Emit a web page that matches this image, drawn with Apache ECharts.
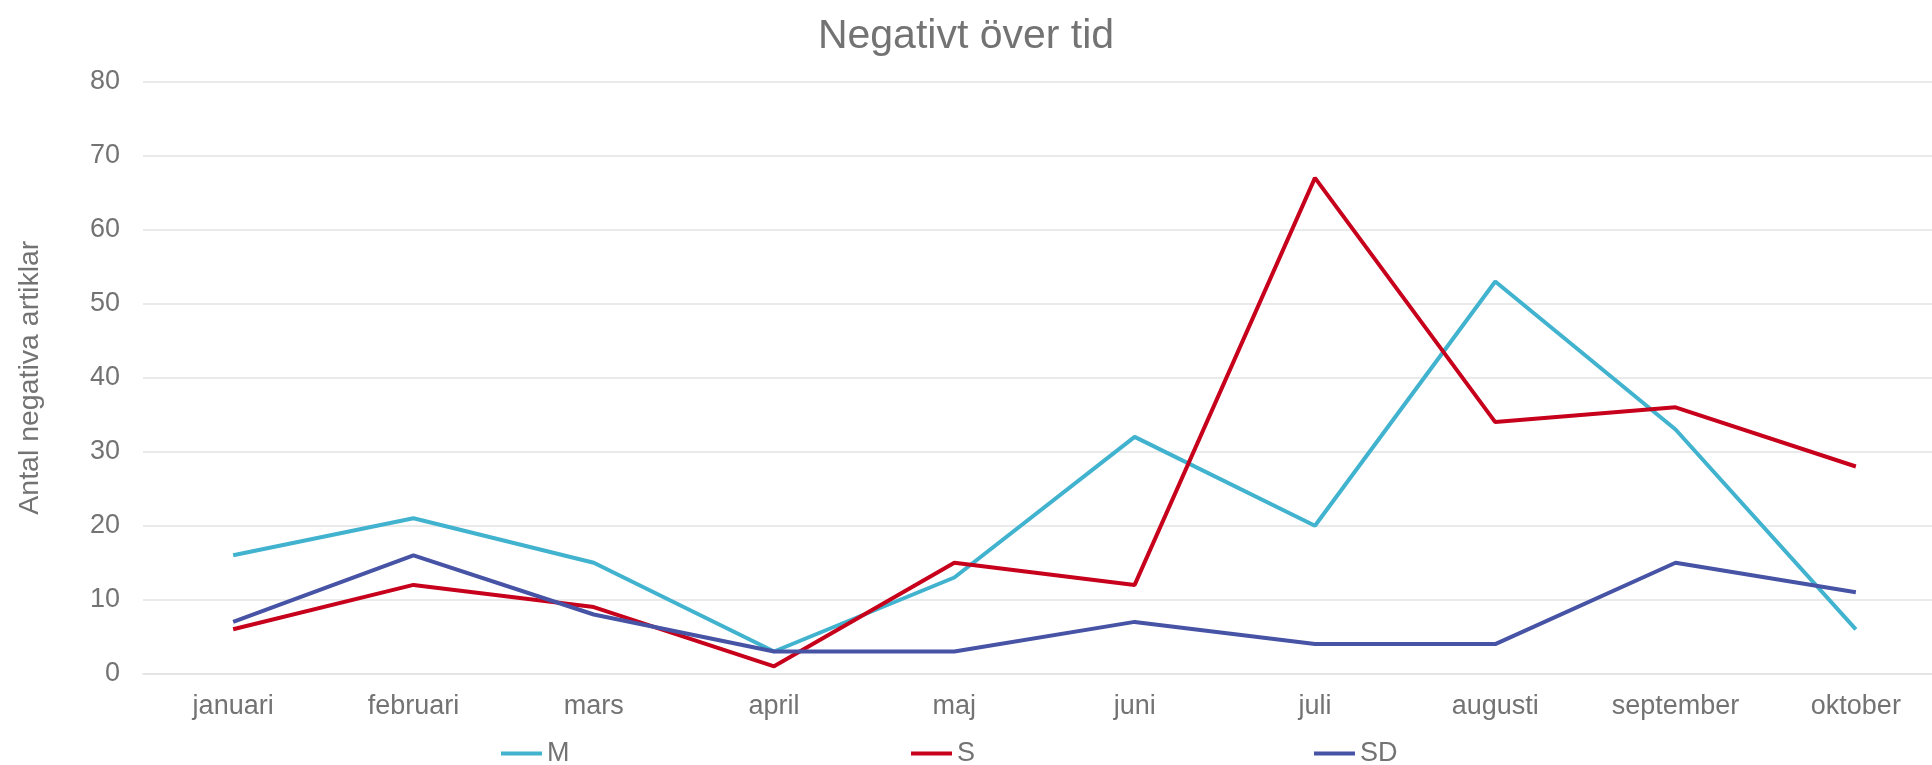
<!DOCTYPE html>
<html>
<head>
<meta charset="utf-8">
<script src="https://cdn.jsdelivr.net/npm/echarts@6/dist/echarts.min.js"></script>
<style>
html,body{margin:0;padding:0;background:#fff;}
#c{width:1932px;height:765px;}
</style>
</head>
<body>
<div id="c"></div>
<script>
var categories = ['januari','februari','mars','april','maj','juni','juli','augusti','september','oktober'];
var seriesM = [16, 21, 15, 3, 13, 32, 20, 53, 33, 6];
var seriesS = [6, 12, 9, 1, 15, 12, 67, 34, 36, 28];
var seriesSD = [7, 16, 8, 3, 3, 7, 4, 4, 15, 11];
var yTicks = [0, 10, 20, 30, 40, 50, 60, 70, 80];

var FONT = '"Liberation Sans", Arial, sans-serif';
var TXT = '#737373';
var colors = {M: '#41B3CF', S: '#C7001C', SD: '#4753A5'};

function legendFor(name, left) {
  return {
    data: [name], left: left, top: 740, icon: 'rect', itemWidth: 41, itemHeight: 4,
    padding: 0, itemGap: 0, textStyle: {fontFamily: FONT, fontSize: 27, color: TXT}
  };
}

var chart = echarts.init(document.getElementById('c'), null, {renderer: 'canvas'});
chart.setOption({
  animation: false,
  backgroundColor: '#ffffff',
  title: {
    text: 'Negativt över tid', left: 'center', top: 11,
    textStyle: {fontFamily: FONT, fontSize: 41, fontWeight: 'normal', color: TXT}
  },
  legend: [legendFor('M', 501), legendFor('S', 911), legendFor('SD', 1314)],
  grid: {left: 143, top: 81.7, width: 1803, height: 592, containLabel: false, outerBoundsMode: 'none'},
  xAxis: {
    type: 'category', data: categories, boundaryGap: true,
    axisLine: {show: true, lineStyle: {color: '#e3e3e3', width: 1.5}},
    axisTick: {show: false},
    axisLabel: {fontFamily: FONT, fontSize: 27, color: TXT, margin: 19, interval: 0}
  },
  yAxis: {
    type: 'value', min: yTicks[0], max: yTicks[yTicks.length-1], interval: 10,
    name: 'Antal negativa artiklar', nameLocation: 'middle', nameGap: 98,
    nameTextStyle: {fontFamily: FONT, fontSize: 28.5, color: TXT},
    axisLine: {show: false}, axisTick: {show: false},
    axisLabel: {fontFamily: FONT, fontSize: 27, color: TXT, margin: 23},
    splitLine: {lineStyle: {color: '#e3e3e3', width: 1.5}}
  },
  series: [
    {name: 'M', type: 'line', data: seriesM, symbol: 'none', lineStyle: {width: 4, color: colors.M}, itemStyle: {color: colors.M}},
    {name: 'S', type: 'line', data: seriesS, symbol: 'none', lineStyle: {width: 4, color: colors.S}, itemStyle: {color: colors.S}},
    {name: 'SD', type: 'line', data: seriesSD, symbol: 'none', lineStyle: {width: 4, color: colors.SD}, itemStyle: {color: colors.SD}}
  ]
});
</script>
</body>
</html>
